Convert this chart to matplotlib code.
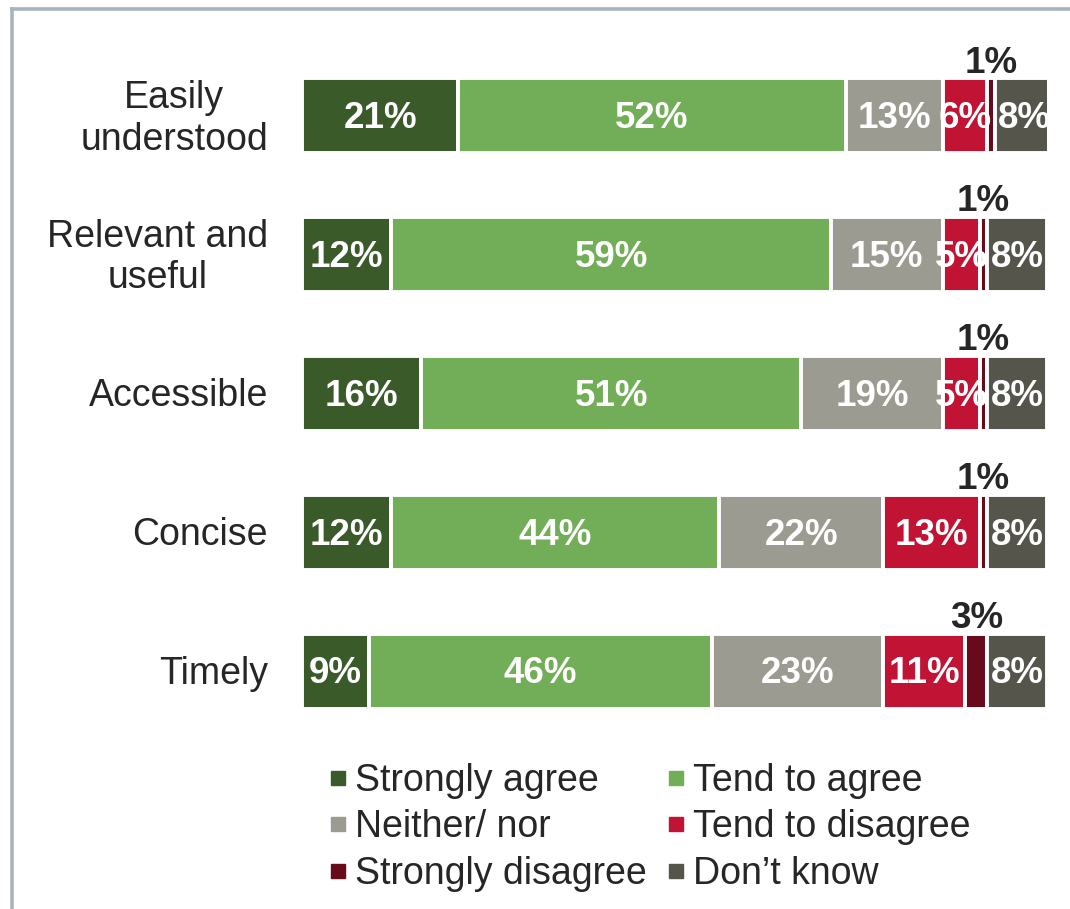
import numpy as np
import matplotlib.pyplot as plt
from matplotlib.lines import Line2D

plt.rcParams['font.family'] = ['Liberation Sans', 'DejaVu Sans']

# survey rows (top to bottom) and answer shares in %
items = ['Easily\nunderstood', 'Relevant and\nuseful', 'Accessible', 'Concise', 'Timely']
answers = ['Strongly agree', 'Tend to agree', 'Neither/ nor',
           'Tend to disagree', 'Strongly disagree', 'Don\u2019t know']
strongly_agree = [21, 12, 16, 12, 9]
tend_agree = [52, 59, 51, 44, 46]
neither = [13, 15, 19, 22, 23]
tend_disagree = [6, 5, 5, 13, 11]
strongly_disagree = [1, 1, 1, 1, 3]
dont_know = [8, 8, 8, 8, 8]

series = [strongly_agree, tend_agree, neither, tend_disagree, strongly_disagree, dont_know]
colors = ['#3a5a2a', '#72ad57', '#9c9b91', '#c11334', '#660a1c', '#55554c']

fig = plt.figure(figsize=(10.7, 9.09), dpi=100)
ax = fig.add_axes([302 / 1070, 1 - 740.5 / 909, 745 / 1070, 694 / 909])

y = np.arange(len(items))
left = np.zeros(len(items))
for vals, col in zip(series, colors):
    vals = np.array(vals, dtype=float)
    ax.barh(y, vals, left=left, height=0.54, color=col, edgecolor='white', linewidth=2.8)
    for yi, l, v in zip(y, left, vals):
        if v >= 5:
            ax.text(l + v / 2, yi + 0.02, f'{v:.0f}%', ha='center', va='center',
                    color='white', fontsize=26.5, fontweight='bold')
        else:
            ax.text(l + v / 2, yi - 0.255, f'{v:.0f}%', ha='center', va='bottom',
                    color='#262626', fontsize=26.5, fontweight='bold', clip_on=False)
    left += vals

ax.set_xlim(0, 100)
ax.set_ylim(len(items) - 0.5, -0.5)
ax.set_yticks([])
for yi, name in zip(y, items):
    # two-line names are centred on each other, right edge near the bars
    ax.annotate(name, xy=(0, yi), xycoords=('axes fraction', 'data'),
                xytext=(-34, -3), textcoords='offset pixels',
                ha='right', va='center', multialignment='center',
                fontsize=27, color='#262626', linespacing=1.2)
ax.set_xticks([])
for s in ax.spines.values():
    s.set_visible(False)

# legend filled row by row: reorder for matplotlib's column-first layout
order = [0, 2, 4, 1, 3, 5]
handles = [Line2D([], [], marker='s', linestyle='none', markersize=9.5, color=colors[i]) for i in order]
labels = [answers[i] for i in order]
fig.legend(handles, labels, loc='upper left', bbox_to_anchor=(304 / 1070, 1 - 744 / 909),
           ncol=2, frameon=False, fontsize=27, labelcolor='#262626',
           handlelength=0.8, handletextpad=0.05, columnspacing=0.4, labelspacing=0.28, borderpad=0)

# outer frame
frame = '#a9b3bd'
fig.add_artist(Line2D([11.5 / 1070, 11.5 / 1070], [0, 1 - 8.5 / 909], color=frame, lw=2.6))
fig.add_artist(Line2D([11.5 / 1070, 1], [1 - 8.5 / 909, 1 - 8.5 / 909], color=frame, lw=2.6))

fig.savefig('out.png', dpi=100)
